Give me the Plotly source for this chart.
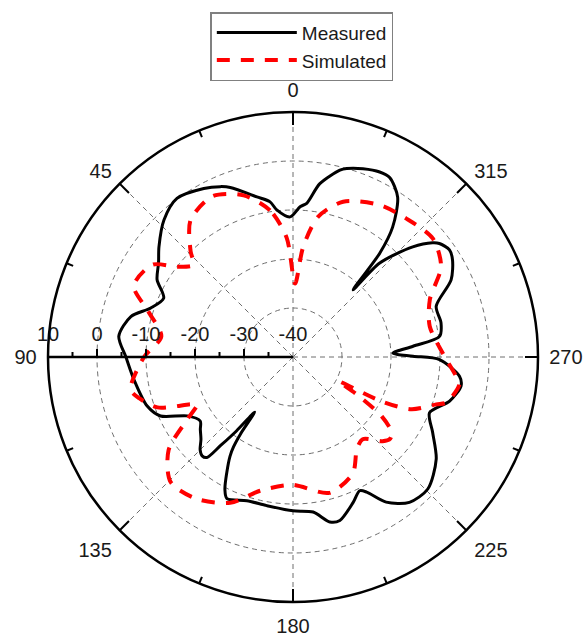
import math
import plotly.graph_objects as go

# Measured radiation pattern: angle (deg, counter-clockwise from top) and level (dB)
meas_theta = [1.2, 6.3, 8.4, 12.7, 20.3, 23.1, 27.9, 36.2, 43.3, 50.6, 55.0, 60.4,
              65.5, 71.0, 76.0, 83.2, 90.0, 98.0, 108.6, 114.0, 119.1, 124.6, 128.0,
              131.8, 135.0, 137.4, 139.4, 140.7, 142.6, 145.2, 145.7, 146.5, 147.6,
              150.2, 152.8, 155.0, 162.2, 170.0, 180.0, 187.4, 192.6, 196.0, 202.5,
              206.5, 208.6, 212.7, 218.7, 225.6, 234.5, 241.6, 247.8, 254.3, 260.2,
              263.4, 269.0, 270.4, 272.2, 275.1, 278.0, 283.0, 289.5, 296.0, 301.3,
              304.4, 307.8, 309.3, 312.6, 317.3, 318.2, 320.1, 322.5, 326.8, 331.7,
              334.9, 339.6, 344.1, 345.9, 351.2, 354.9, 357.3, 361.2]
meas_gain = [-11.4, -9.8, -8.0, -6.5, -3.1, -2.2, -1.1, 0.1, -1.6, -4.6, -6.5, -8.1,
             -11.0, -9.3, -5.9, -4.2, -5.9, -7.2, -8.6, -10.4, -15.3, -17.0, -16.0,
             -14.8, -13.2, -12.6, -13.0, -16.6, -21.0, -26.3, -21.0, -18.0, -16.0,
             -12.8, -9.6, -8.1, -9.2, -9.2, -8.6, -8.1, -5.5, -5.3, -7.9,
             -9.5, -8.6, -4.8, -2.0, -1.5, -4.1, -7.6, -9.9, -6.8, -5.2,
             -5.8, -10.1, -15.5, -19.6, -15.4, -9.8, -9.0, -9.0, -4.1, -1.9,
             -1.3, -2.2, -3.2, -6.8, -13.9, -21.6, -12.4, -6.6, -1.0, 1.6,
             1.7, 1.0, 0.0, -0.7, -4.2, -8.5, -9.3, -11.4]

# Simulated radiation pattern
sim_theta = [3.0, 8.9, 17.0, 26.6, 36.8, 44.0, 47.2, 52.0, 56.7, 65.9, 72.6, 81.2,
             90.0, 101.3, 105.0, 110.4, 114.8, 116.3, 120.5, 126.8, 135.6, 145.8,
             156.7, 166.2, 179.6, 195.0, 207.2, 214.7, 220.3, 226.8, 230.0, 232.7,
             236.2, 239.6, 242.0, 243.4, 246.2, 251.7, 253.4, 260.6, 263.3, 271.0,
             282.7, 292.8, 301.4, 310.3, 320.8, 330.3, 342.1, 349.8, 354.7, 358.4,
             363.0]
sim_gain = [-15.7, -9.7, -5.5, -3.3, -5.1, -9.9, -12.3, -10.1, -5.7, -4.4, -9.1, -12.8,
            -9.6, -6.2, -7.5, -10.5, -17.0, -18.2, -15.0, -8.3, -4.3, -5.0,
            -7.6, -11.9, -13.9, -11.3, -13.3, -17.1, -18.0, -14.9, -14.1, -14.7,
            -18.2, -24.9, -29.5, -19.8, -13.6, -9.2, -7.4, -5.6, -6.5, -9.3,
            -11.4, -9.7, -4.6, -2.6, -3.5, -4.3, -6.7, -10.9, -17.4, -25.0,
            -15.7]

angle_ticks = [0, 45, 90, 135, 180, 225, 270, 315]
angle_minor = [22.5, 67.5, 112.5, 157.5, 202.5, 247.5, 292.5, 337.5]
radial_ticks = [-40, -30, -20, -10, 0, 10]
radial_minor = [-35, -25, -15, -5, 5]

r_min, r_max = -40, 10
radius_px = 245.0
px_per_db = radius_px / (r_max - r_min)
label_font = dict(family="Arial, Liberation Sans, sans-serif", size=20, color="#1a1a1a")

fig = go.Figure()

fig.add_trace(go.Scatterpolar(
    r=meas_gain, theta=meas_theta, mode="lines", name="Measured",
    line=dict(color="black", width=3, shape="spline", smoothing=0.8),
))
fig.add_trace(go.Scatterpolar(
    r=sim_gain, theta=sim_theta, mode="lines", name="Simulated",
    line=dict(color="#ff0000", width=4, dash="13px,11px", shape="spline", smoothing=0.8),
))

# inward ticks on the outer circle: long at labelled angles, short in between
tick_r, tick_t = [], []
for angles, length_px in ((angle_ticks, 13), (angle_minor, 7)):
    for a in angles:
        tick_r += [r_max - length_px / px_per_db, r_max, None]
        tick_t += [a, a, None]
fig.add_trace(go.Scatterpolar(
    r=tick_r, theta=tick_t, mode="lines", showlegend=False, hoverinfo="skip",
    line=dict(color="black", width=2),
))

# upward ticks on the radial scale (drawn along the 90 deg direction)
scale_r, scale_t = [], []
for values, length_px in ((radial_ticks[1:-1], 8), (radial_minor, 5)):
    for v in values:
        d = (v - r_min) * px_per_db
        tip_d = math.hypot(d, length_px)
        scale_r += [v, r_min + tip_d / px_per_db, None]
        scale_t += [90, 90 - math.degrees(math.atan2(length_px, d)), None]
fig.add_trace(go.Scatterpolar(
    r=scale_r, theta=scale_t, mode="lines", showlegend=False, hoverinfo="skip",
    line=dict(color="black", width=2),
))

# radial scale numbers, centred above each major tick
fig.add_trace(go.Scatterpolar(
    r=radial_ticks, theta=[90] * len(radial_ticks), mode="markers+text",
    text=[str(v) for v in radial_ticks], textposition="top center",
    textfont=label_font, marker=dict(size=16, color="rgba(0,0,0,0)"),
    showlegend=False, hoverinfo="skip", cliponaxis=False,
))

grid_style = dict(showgrid=True, gridcolor="#6e6e6e", gridwidth=1, griddash="5px,4px")

fig.update_layout(
    width=588, height=637,
    margin=dict(l=48, r=50, t=112, b=35),
    paper_bgcolor="white", plot_bgcolor="white",
    font=label_font,
    polar=dict(
        bgcolor="white",
        domain=dict(x=[0, 1], y=[0, 1]),
        angularaxis=dict(
            rotation=90, direction="counterclockwise",
            tickmode="array", tickvals=angle_ticks,
            ticktext=[str(a) for a in angle_ticks],
            ticks="outside", ticklen=6, tickwidth=1, tickcolor="rgba(0,0,0,0)",
            showline=True, linecolor="black", linewidth=2.5,
            tickfont=label_font, **grid_style,
        ),
        radialaxis=dict(
            range=[r_min, r_max], angle=180,
            tickmode="array", tickvals=radial_ticks,
            ticks="", showticklabels=False,
            showline=True, linecolor="black", linewidth=2.5,
            **grid_style,
        ),
    ),
    legend=dict(
        x=0.518, xanchor="center", y=1.204, yanchor="top",
        bordercolor="#808080", borderwidth=1.5, bgcolor="white",
        font=dict(family="Arial, Liberation Sans, sans-serif", size=19, color="#1a1a1a"),
        itemwidth=80, tracegroupgap=0,
    ),
)

fig.write_html("out.html")
